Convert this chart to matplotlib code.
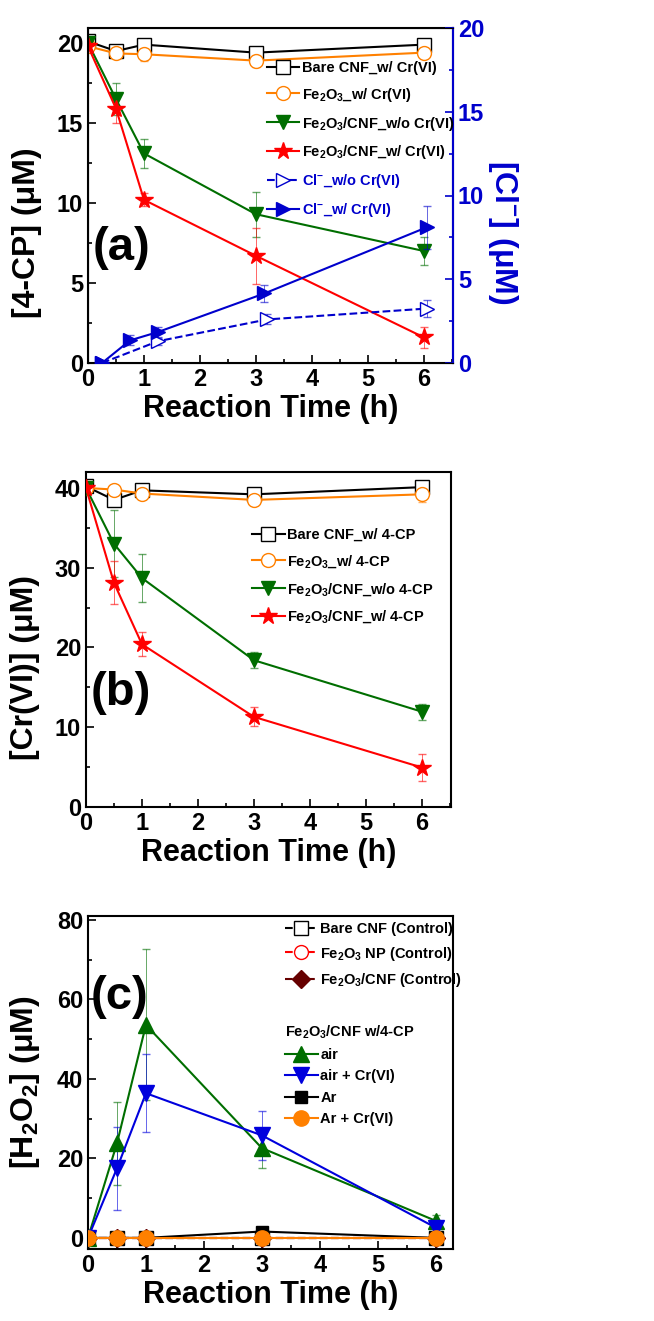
import matplotlib
matplotlib.use("Agg")
import numpy as np
import matplotlib.pyplot as plt
from matplotlib.ticker import MultipleLocator

plt.rcParams['font.family'] = ['Liberation Sans', 'DejaVu Sans']
plt.rcParams['font.weight'] = 'bold'
plt.rcParams['mathtext.fontset'] = 'custom'
plt.rcParams['mathtext.rm'] = 'Liberation Sans:bold'
plt.rcParams['mathtext.it'] = 'Liberation Sans:bold'
plt.rcParams['mathtext.bf'] = 'Liberation Sans:bold'

# ---- panel (a): 4-CP and Cl- ----
t = [0, 0.5, 1, 3, 6]
a_bare = [20.1, 19.5, 19.9, 19.4, 19.9]
a_bare_err = [0.2, 0.3, 0.3, 0.3, 0.3]
a_fe2o3 = [19.8, 19.35, 19.3, 18.9, 19.4]
a_fe2o3_err = [0.2, 0.3, 0.4, 0.4, 0.3]
a_wo = [20.0, 16.5, 13.1, 9.3, 7.0]
a_wo_err = [0.2, 1.0, 0.9, 1.4, 0.85]
a_w = [19.8, 15.9, 10.2, 6.7, 1.6]
a_w_err = [0.2, 0.9, 0.4, 1.75, 0.65]

t_cl_wo = [0.25, 1.25, 3.2, 6.05]
cl_wo = [0.0, 1.3, 2.6, 3.25]
cl_wo_err = [0.1, 0.2, 0.3, 0.5]
t_cl_w = [0.25, 0.75, 1.25, 3.15, 6.05]
cl_w = [0.0, 1.35, 1.85, 4.15, 8.1]
cl_w_err = [0.1, 0.3, 0.3, 0.5, 1.3]

# ---- panel (b): Cr(VI) ----
b_bare = [40.2, 38.5, 39.7, 39.2, 40.1]
b_bare_err = [0.3, 0.4, 0.4, 0.4, 0.4]
b_fe2o3 = [40.0, 39.8, 39.3, 38.5, 39.2]
b_fe2o3_err = [0.3, 0.5, 0.6, 0.6, 1.0]
b_wo = [40.0, 33.0, 28.7, 18.4, 11.95]
b_wo_err = [0.3, 4.2, 3.0, 1.0, 1.0]
b_w = [40.0, 28.1, 20.4, 11.3, 4.95]
b_w_err = [0.3, 2.7, 1.5, 1.2, 1.7]

# ---- panel (c): H2O2 ----
c_ctrl_bare = [0, 0, 0, 0, 0]
c_ctrl_np = [0, 0, 0, 0, 0]
c_ctrl_cnf = [0, 0, 0, 0, 0]
c_air = [0.0, 23.8, 53.6, 22.6, 4.3]
c_air_err = [0.5, 10.5, 19.0, 5.0, 1.5]
c_aircr = [0.0, 17.5, 36.4, 25.8, 2.6]
c_aircr_err = [0.5, 10.4, 9.8, 6.2, 1.0]
c_ar = [0.0, 0.0, 0.0, 1.6, 0.0]
c_ar_err = [0.3, 1.0, 1.0, 0.5, 0.5]
c_arcr = [0.0, 0.0, 0.0, 0.0, 0.0]
c_arcr_err = [0.3, 1.0, 1.0, 0.5, 0.5]

W, H = 654, 1321
fig = plt.figure(figsize=(W / 100, H / 100), dpi=100)

def add_ax(x0, y0, x1, y1):
    return fig.add_axes([x0 / W, 1 - y1 / H, (x1 - x0) / W, (y1 - y0) / H])

ORANGE = '#FF8000'
GREEN = '#006E00'
RED = '#FF0000'
BLUE = '#0000CC'
LFS = 10.5

def style(ax, xmax, ymin, ymax, ymaj, ymin_step):
    ax.set_xlim(0, xmax)
    ax.set_ylim(ymin, ymax)
    ax.xaxis.set_major_locator(MultipleLocator(1))
    ax.xaxis.set_minor_locator(MultipleLocator(0.5))
    ax.yaxis.set_major_locator(MultipleLocator(ymaj))
    ax.yaxis.set_minor_locator(MultipleLocator(ymin_step))
    ax.tick_params(which='both', direction='in', top=False, right=False,
                   labelsize=17, width=1.2)
    ax.tick_params(which='major', length=6)
    ax.tick_params(which='minor', length=3)
    for s in ax.spines.values():
        s.set_linewidth(1.5)
    ax.set_xlabel('Reaction Time (h)', fontsize=22, fontweight='bold', labelpad=2)

def series(ax, x, y, e, color, marker, mfc=None, ls='-', ms=10, z=3):
    c = ax.errorbar(x, y, yerr=e, color=color, marker=marker, ms=ms, ls=ls, lw=1.5,
                    mfc=mfc if mfc else color, mec=color, mew=1.0,
                    ecolor=color, elinewidth=0.7, capsize=3, capthick=0.7, zorder=z)
    if c[2]:
        for b in c[2]:
            b.set_alpha(0.6)
        for b in c[1]:
            b.set_alpha(0.6)
    return c[0]

# panel (a)
ax1 = add_ax(88, 28, 453, 363)
style(ax1, 6.52, 0, 20.94, 5, 2.5)
ha = [
    series(ax1, t, a_bare, a_bare_err, 'black', 's', mfc='white'),
    series(ax1, t, a_fe2o3, a_fe2o3_err, ORANGE, 'o', mfc='white'),
    series(ax1, t, a_wo, a_wo_err, GREEN, 'v'),
    series(ax1, t, a_w, a_w_err, RED, '*', ms=13),
]
ax1.set_ylabel('[4-CP] (μM)', fontsize=23, fontweight='bold')
ax1.yaxis.set_label_coords(-0.126, 0.39)
ax1.text(0.08, 7.2, '(a)', fontsize=34, fontweight='bold', va='center')

ax1r = ax1.twinx()
ax1r.set_ylim(0, 20)
ax1r.yaxis.set_major_locator(MultipleLocator(5))
ax1r.yaxis.set_minor_locator(MultipleLocator(2.5))
ax1r.tick_params(which='both', direction='in', colors=BLUE, labelsize=17, width=1.2)
ax1r.tick_params(which='major', length=6)
ax1r.tick_params(which='minor', length=3)
ax1r.spines['right'].set_color(BLUE)
ax1r.spines['right'].set_linewidth(1.5)
ha += [
    series(ax1r, t_cl_wo, cl_wo, cl_wo_err, BLUE, '>', mfc='white', ls='--'),
    series(ax1r, t_cl_w, cl_w, cl_w_err, BLUE, '>'),
]
ax1r.set_ylabel('[Cl$^{-}$] (μM)', fontsize=23, fontweight='bold', color=BLUE,
                rotation=270)
ax1r.yaxis.set_label_coords(1.184, 0.39)
la = ['Bare CNF_w/ Cr(VI)', 'Fe$_2$O$_3$_w/ Cr(VI)', 'Fe$_2$O$_3$/CNF_w/o Cr(VI)',
      'Fe$_2$O$_3$/CNF_w/ Cr(VI)', 'Cl$^{-}$_w/o Cr(VI)', 'Cl$^{-}$_w/ Cr(VI)']
leg = ax1r.legend(ha, la, loc='upper left', bbox_to_anchor=(0.475, 0.92),
                  frameon=False, fontsize=LFS, handlelength=2.2, handletextpad=0.2,
                  labelspacing=0.75, borderaxespad=0)
for txt in leg.get_texts()[4:]:
    txt.set_color(BLUE)

# panel (b)
ax2 = add_ax(86, 472, 451, 807)
style(ax2, 6.52, 0, 42, 10, 5)
hb = [
    series(ax2, t, b_bare, b_bare_err, 'black', 's', mfc='white'),
    series(ax2, t, b_fe2o3, b_fe2o3_err, ORANGE, 'o', mfc='white'),
    series(ax2, t, b_wo, b_wo_err, GREEN, 'v'),
    series(ax2, t, b_w, b_w_err, RED, '*', ms=13),
]
lb = ['Bare CNF_w/ 4-CP', 'Fe$_2$O$_3$_w/ 4-CP', 'Fe$_2$O$_3$/CNF_w/o 4-CP',
      'Fe$_2$O$_3$/CNF_w/ 4-CP']
ax2.set_ylabel('[Cr(VI)] (μM)', fontsize=23, fontweight='bold')
ax2.yaxis.set_label_coords(-0.126, 0.415)
ax2.text(0.08, 14.3, '(b)', fontsize=34, fontweight='bold', va='center')
ax2.legend(hb, lb, loc='upper left', bbox_to_anchor=(0.44, 0.85), frameon=False,
           fontsize=LFS, handlelength=2.2, handletextpad=0.2, labelspacing=0.75,
           borderaxespad=0)

# panel (c)
ax3 = add_ax(88, 916, 453, 1249)
style(ax3, 6.3, -2.8, 81, 20, 10)
hc = [
    series(ax3, t, c_ctrl_bare, None, 'black', 's', mfc='white', ls='--', z=2),
    series(ax3, t, c_ctrl_np, None, RED, 'o', mfc='white', ls='--', z=2),
    series(ax3, t, c_ctrl_cnf, None, '#660000', 'D', ls='--', ms=9, z=2),
    series(ax3, t, c_air, c_air_err, GREEN, '^', ms=11),
    series(ax3, t, c_aircr, c_aircr_err, '#0000DD', 'v', ms=11),
    series(ax3, t, c_ar, c_ar_err, 'black', 's', ms=9),
    series(ax3, t, c_arcr, c_arcr_err, ORANGE, 'o', ms=11),
]
lc = ['Bare CNF (Control)', 'Fe$_2$O$_3$ NP (Control)', 'Fe$_2$O$_3$/CNF (Control)',
      'air', 'air + Cr(VI)', 'Ar', 'Ar + Cr(VI)']
ax3.set_ylabel('[H$_2$O$_2$] (μM)', fontsize=23, fontweight='bold')
ax3.yaxis.set_label_coords(-0.125, 0.5)
ax3.text(0.05, 60.7, '(c)', fontsize=34, fontweight='bold', va='center')

leg3a = ax3.legend(hc[:3], lc[:3], loc='upper left', bbox_to_anchor=(0.525, 1.0),
                   frameon=False, fontsize=LFS, handlelength=2.2, handletextpad=0.2,
                   labelspacing=0.6, borderaxespad=0)
ax3.add_artist(leg3a)
ax3.legend(hc[3:], lc[3:], loc='upper left', bbox_to_anchor=(0.525, 0.695),
           frameon=False, fontsize=LFS, handlelength=2.2, handletextpad=0.2,
           labelspacing=0.5, title='Fe$_2$O$_3$/CNF w/4-CP', title_fontsize=LFS,
           alignment='left', borderaxespad=0)

fig.savefig('out.png', dpi=100)
